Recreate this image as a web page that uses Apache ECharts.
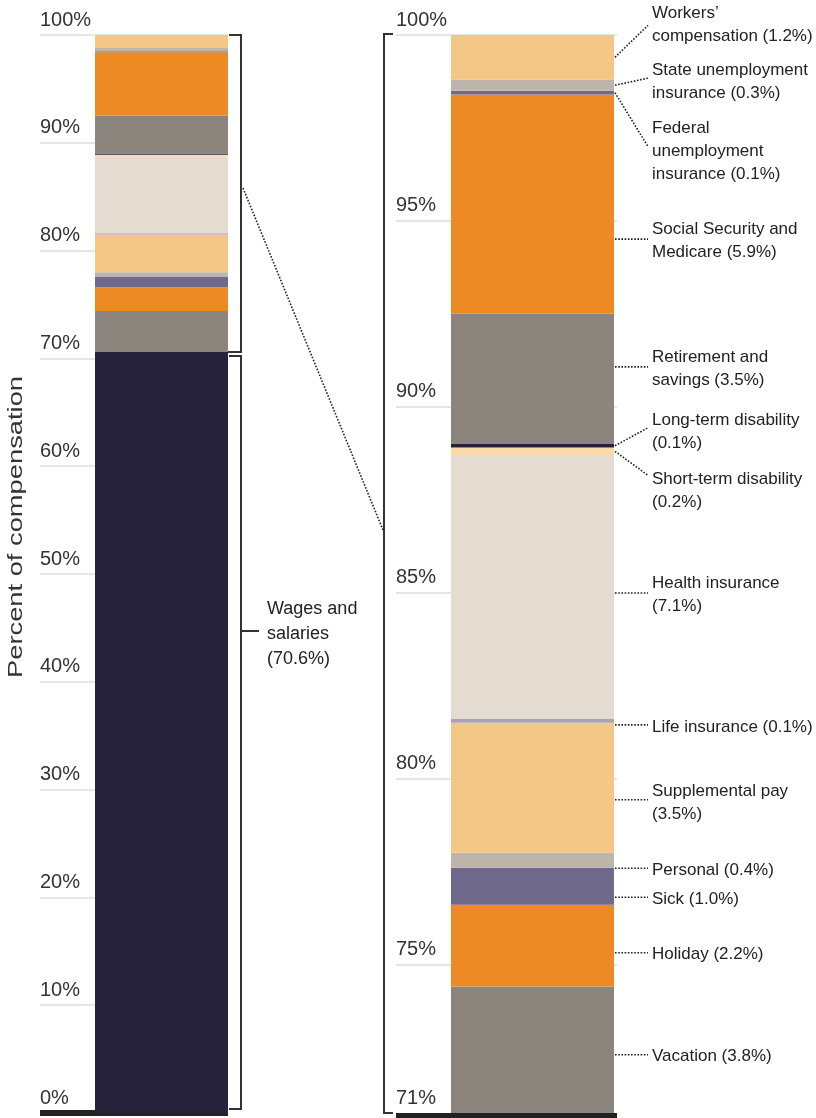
<!DOCTYPE html>
<html><head><meta charset="utf-8">
<script src="https://cdn.jsdelivr.net/npm/echarts@6/dist/echarts.min.js"></script>
<style>html,body{margin:0;padding:0;background:#fff}#c{width:816px;height:1118px}</style>
</head><body><div id="c"></div>
<script>
// ---- data ----
const components = ['Wages and salaries','Vacation','Holiday','Sick','Personal','Supplemental pay','Life insurance','Health insurance','Short-term disability','Long-term disability','Retirement and savings','Social Security and Medicare','Federal unemployment insurance','State unemployment insurance',"Workers\u2019 compensation"];
const shares = [70.6, 3.8, 2.2, 1.0, 0.4, 3.5, 0.1, 7.1, 0.2, 0.1, 3.5, 5.9, 0.1, 0.3, 1.2];
const labelLines = [
  ['Wages and','salaries','(70.6%)'],
  ['Vacation (3.8%)'],
  ['Holiday (2.2%)'],
  ['Sick (1.0%)'],
  ['Personal (0.4%)'],
  ['Supplemental pay','(3.5%)'],
  ['Life insurance (0.1%)'],
  ['Health insurance','(7.1%)'],
  ['Short-term disability','(0.2%)'],
  ['Long-term disability','(0.1%)'],
  ['Retirement and','savings (3.5%)'],
  ['Social Security and','Medicare (5.9%)'],
  ['Federal','unemployment','insurance (0.1%)'],
  ['State unemployment','insurance (0.3%)'],
  ['Workers\u2019','compensation (1.2%)']
];
const fullTicks = [0,10,20,30,40,50,60,70,80,90,100];
const zoomLabelTicks = [71,75,80,85,90,95,100];
const zoomGridTicks = [75,80,85,90,95,100];
const yTitle = 'Percent of compensation';

// ---- styles / layout ----
const colors = ['#27223b','#8c857e','#ee8a24','#6f6a8b','#bdb4aa','#f5c787','#aaa3b8','#e4dcd1','#fcd9a9','#27223b','#8c857e','#ee8a24','#6f6a8b','#bdb4aa','#f5c787'];
// per label: [text middle offset, leader end offset, straight leader] relative to segment centre (px)
const labelLayout = [null,[5,5,1],[7,7,1],[11,11,1],[8,8,1],[13,12,1],[4,4,1],[6,6,1],[37,24,0],[-16,-18,0],[-12,-12,1],[35,35,1],[57,54,0],[-5,-7,0],[-34,-32,0]];
const TEXT_SHIFT = 2;
const FONT = '"Liberation Sans", Arial, sans-serif';
const TOP = 35, BOTTOM = 5;

const chart = echarts.init(document.getElementById('c'), null, {renderer:'canvas'});

function axisLabelStyle(extra){
  return Object.assign({inside:true, margin:0, align:'left', verticalAlign:'bottom', padding:[0,0,5,0],
    fontSize:20, color:'#333', fontFamily:FONT, formatter: v => v + '%'}, extra||{});
}
const grids = [
  {left:40, width:188, top:TOP, bottom:BOTTOM},
  {left:95, width:133, top:TOP, bottom:BOTTOM},
  {left:396, width:221, top:TOP, bottom:BOTTOM},
  {left:451, width:163, top:TOP, bottom:BOTTOM}
];
const baseX = i => ({gridIndex:i, type:'category', data:[''], axisTick:{show:false}, axisLabel:{show:false},
  axisLine:{show:(i===0||i===2), lineStyle:{color:'#222', width:6, cap:'butt'}}, offset:(i===0||i===2)?3:0});
const xAxes = [0,1,2,3].map(baseX);
const yAxes = [
  {gridIndex:0, type:'value', min:fullTicks[0], max:fullTicks[fullTicks.length-1], interval:10,
   axisLine:{show:false}, axisTick:{show:false}, splitLine:{lineStyle:{color:'#e6e6e6', width:2}}, axisLabel:axisLabelStyle()},
  {gridIndex:1, type:'value', min:0, max:100, show:false, splitLine:{show:false}},
  {gridIndex:2, type:'value', min:zoomLabelTicks[0], max:100,
   axisLine:{show:false}, axisTick:{show:false, customValues:zoomGridTicks},
   splitLine:{lineStyle:{color:'#e6e6e6', width:2}}, axisLabel:axisLabelStyle({customValues:zoomLabelTicks})},
  {gridIndex:3, type:'value', min:zoomLabelTicks[0], max:100, show:false, splitLine:{show:false}}
];
const series = [];
components.forEach((name,i) => {
  [1,3].forEach(g => series.push({
    type:'bar', name, xAxisIndex:g, yAxisIndex:g, stack:'s'+g, barWidth:'100%',
    data:[shares[i]], itemStyle:{color:colors[i]}, silent:true, clip:true
  }));
});

chart.setOption({animation:false, grid:grids, xAxis:xAxes, yAxis:yAxes, series});

// ---- annotations computed from the scales ----
const yL = v => chart.convertToPixel({yAxisIndex:1}, v);
const yR = v => chart.convertToPixel({yAxisIndex:3}, v);
const cum = []; shares.reduce((a,b,i)=>{cum[i]=a+b; return a+b;},0);
const g = [];
const lineStyle = {stroke:'#333', lineWidth:2, fill:null};
const dotStyle = {stroke:'#222', lineWidth:1.6, lineDash:[1.6,1.6], fill:null};
const barRight = grids[3].left + grids[3].width;
const leftBarRight = grids[1].left + grids[1].width;
const brX = leftBarRight + 13;
// left upper bracket
g.push({type:'polyline', shape:{points:[[leftBarRight+1,yL(100)],[brX,yL(100)],[brX,yL(cum[0])],[leftBarRight,yL(cum[0])]]}, style:lineStyle});
// left lower bracket
g.push({type:'polyline', shape:{points:[[leftBarRight+1,yL(cum[0])+4],[brX,yL(cum[0])+4],[brX,yL(0)-4],[leftBarRight+1,yL(0)-4]]}, style:lineStyle});
// wages label
const wagesY = 631;
g.push({type:'line', shape:{x1:brX, y1:wagesY, x2:brX+18, y2:wagesY}, style:lineStyle});
g.push({type:'text', x:267, y:wagesY+1+TEXT_SHIFT, style:{text:labelLines[0].join('\n'), font:'18px '+FONT, fill:'#222', lineHeight:25, verticalAlign:'middle', align:'left'}});
// right bracket
const rbX = grids[2].left - 12;
g.push({type:'polyline', shape:{points:[[rbX+9,yR(100)-1],[rbX,yR(100)-1],[rbX,yR(71)],[rbX+9,yR(71)]]}, style:lineStyle});
// connector
g.push({type:'line', shape:{x1:brX+2, y1:188, x2:rbX-1, y2:530}, style:dotStyle});
// right labels
for(let i=1;i<components.length;i++){
  const lo = Math.max(i ? cum[i-1] : 0, 71), hi = cum[i];
  const c = (yR(lo)+yR(hi))/2;
  const [td, ed, straight] = labelLayout[i];
  const sy = straight ? c+ed : c;
  g.push({type:'line', shape:{x1:barRight+1, y1:sy, x2:648, y2:c+ed}, style:dotStyle});
  g.push({type:'text', x:652, y:c+td+TEXT_SHIFT, style:{text:labelLines[i].join('\n'), font:'17px '+FONT, fill:'#222', lineHeight:23, verticalAlign:'middle', align:'left'}});
}
// y title
g.push({type:'text', x:16, y:527, rotation:Math.PI/2, scaleX:1.3, style:{text:yTitle, font:'21px '+FONT, fill:'#333', align:'center', verticalAlign:'middle'}});
chart.setOption({graphic:g});
</script></body></html>
